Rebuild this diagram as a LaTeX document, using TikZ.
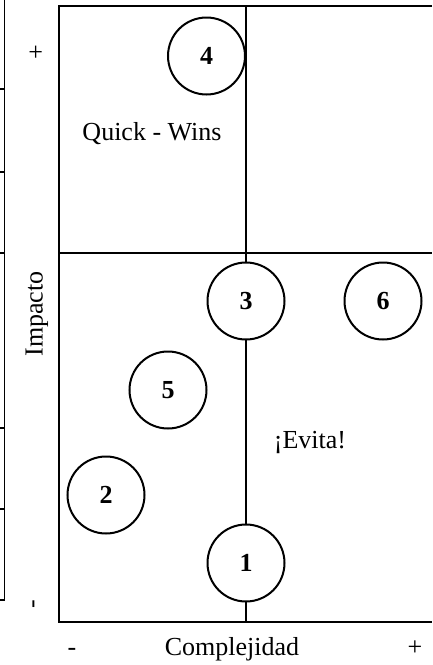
\documentclass[tikz,border=0pt]{standalone}
\usepackage{fontspec}
\setmainfont{Liberation Serif}
\begin{document}
\begin{tikzpicture}[x=1pt,y=-1pt,
  rule/.style={line width=2pt},
  thin rule/.style={line width=1.6pt},
  ball/.style={circle,draw,line width=2pt,fill=white,minimum size=77pt,inner sep=0pt,
    font=\fontsize{26}{30}\selectfont\bfseries},
  lbl/.style={font=\fontsize{26}{30}\selectfont,inner sep=0pt}]
\useasboundingbox (0,0) rectangle (432,665);

% outer column border with its row ticks
\draw[thin rule] (4.5,0) -- (4.5,600) -- (0,600);
\foreach \yy in {89,172,253,428,509}
  \draw[thin rule] (0,\yy) -- (4.5,\yy);

% quadrant frame (open on the right)
\coordinate (tr) at (432,6);
\coordinate (tl) at (59,6);
\coordinate (bl) at (59,622);
\coordinate (br) at (432,622);
\coordinate (ml) at (59,253);
\coordinate (mr) at (432,253);
\coordinate (mt) at (246,6);
\coordinate (mb) at (246,622);
\draw[rule] (tr) -- (tl) -- (bl) -- (br);
\draw[rule] (ml) -- (mr);
\draw[rule] (mt) -- (mb);

% items
\node[ball] (c4) at (206.5,56) {4};
\node[ball] (c3) at (246,301) {3};
\node[ball] (c6) at (383,301) {6};
\node[ball] (c5) at (168,390) {5};
\node[ball] (c2) at (106,495) {2};
\node[ball] (c1) at (246,563) {1};

% quadrant labels
\node[lbl,anchor=base] (qw) at (152,140) {Quick - Wins};
\node[lbl,anchor=base] (ev) at (310,448) {¡Evita!};

% axis labels
\node[lbl,rotate=90] (imp) at (37,314) {Impacto};
\node[lbl,rotate=90] (iplus) at (37,52) {+};
\node[lbl,rotate=90] (iminus) at (36,604) {-};
\node[lbl,anchor=base] (comp) at (232,655) {Complejidad};
\node[lbl,anchor=base] (cminus) at (72,655) {-};
\node[lbl,anchor=base] (cplus) at (415,655) {+};
\end{tikzpicture}
\end{document}
